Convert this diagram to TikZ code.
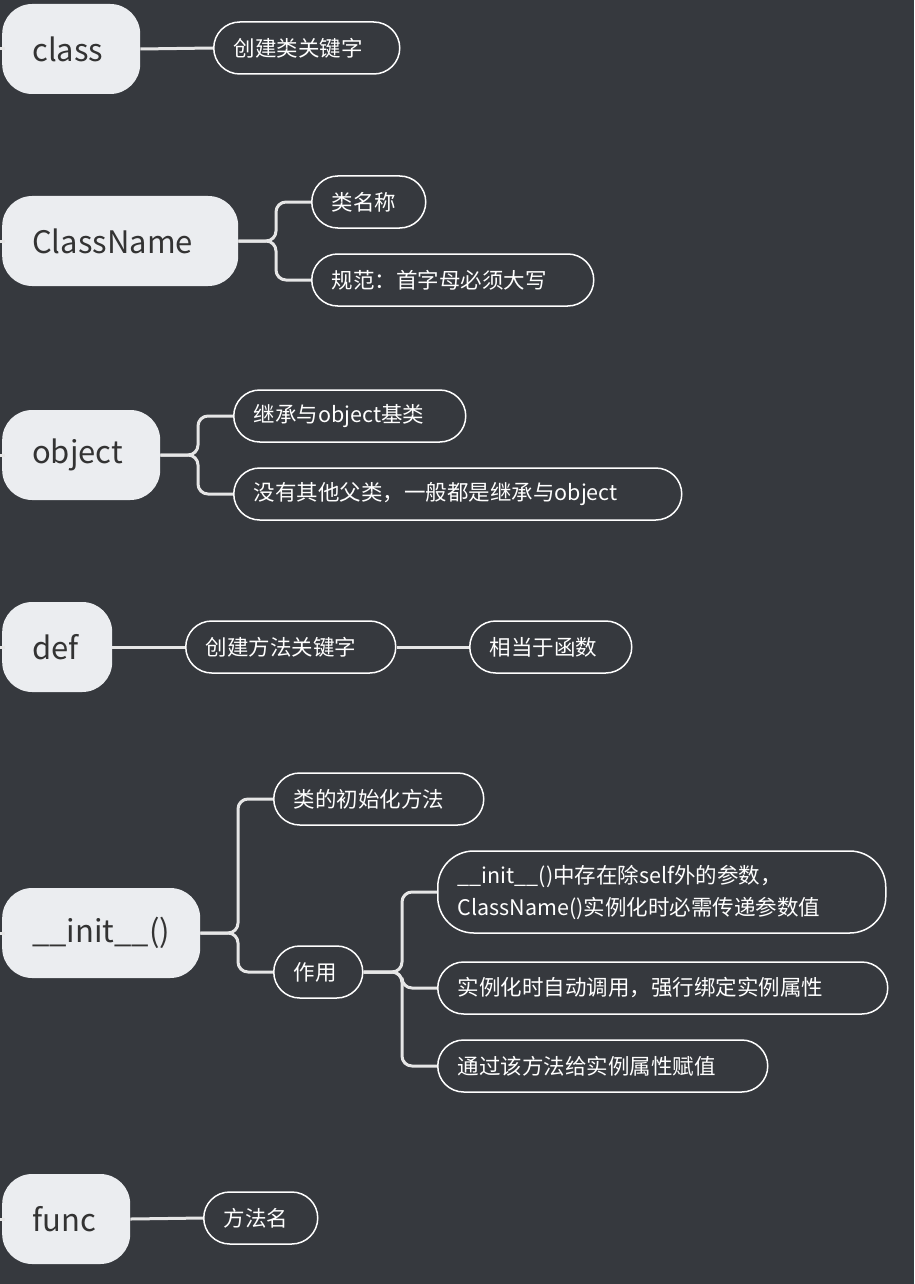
\documentclass[tikz,border=0pt]{standalone}
\usepackage{fontspec}
\setmainfont{Noto Sans CJK SC}
\definecolor{bg}{HTML}{36393E}
\definecolor{mainfill}{HTML}{EBEDF0}
\definecolor{maintext}{HTML}{333333}
\definecolor{ln}{HTML}{E6E6E6}
\begin{document}
\begin{tikzpicture}[x=1pt,y=1pt,
  mainn/.style={fill=mainfill,text=maintext,rounded corners=30pt,minimum height=90pt,anchor=west,font=\fontsize{31}{36}\selectfont,inner xsep=30pt,text width=#1-60pt,align=left},
  child/.style={draw=white,line width=1.5pt,fill=bg,text=white,rounded corners=26pt,minimum height=52pt,anchor=west,font=\fontsize{21.5}{30}\selectfont,inner xsep=20pt,text width=#1-40pt,align=left},
  conn/.style={draw=ln,line width=3pt,rounded corners=10pt}]
\fill[bg] (0,0) rectangle (914,-1284);
\useasboundingbox (0,0) rectangle (914,-1284);
% main nodes
\node[mainn=138pt] (m1) at (2,-49) {class};
\node[mainn=236pt] (m2) at (2,-241) {ClassName};
\node[mainn=158pt] (m3) at (2,-455) {object};
\node[mainn=110pt] (m4) at (2,-647) {def};
\node[mainn=198pt] (m5) at (2,-933) {\_\_init\_\_()};
\node[mainn=128pt] (m6) at (2,-1219) {func};
% children
\node[child=186pt] (c1) at (213,-48) {创建类关键字};
\node[child=114pt] (c2) at (311,-202) {类名称};
\node[child=282pt] (c3) at (311,-280) {规范：首字母必须大写};
\node[child=232pt] (c4) at (233,-416) {继承与object基类};
\node[child=448pt] (c5) at (233,-494) {没有其他父类，一般都是继承与object};
\node[child=210pt] (c6) at (185,-647) {创建方法关键字};
\node[child=162pt] (c7) at (469,-647) {相当于函数};
\node[child=210pt] (c8) at (273,-799) {类的初始化方法};
\node[child=89pt] (c9) at (273,-972) {作用};
\node[child=448pt,minimum height=82pt,font=\fontsize{21.5}{32}\selectfont,rounded corners=36pt] (c10) at (437,-892) {\_\_init\_\_()中存在除self外的参数，\\ClassName()实例化时必需传递参数值};
\node[child=450pt] (c11) at (437,-988) {实例化时自动调用，强行绑定实例属性};
\node[child=330pt] (c12) at (437,-1066) {通过该方法给实例属性赋值};
\node[child=114pt] (c13) at (203,-1218) {方法名};
% connectors
\draw[conn] (m1.east) -- (c1.west);
\draw[conn] (m2.east) -- (276,-241) |- (c2.west);
\draw[conn] (m2.east) -- (276,-241) |- (c3.west);
\draw[conn] (m3.east) -- (198,-455) |- (c4.west);
\draw[conn] (m3.east) -- (198,-455) |- (c5.west);
\draw[conn] (m4.east) -- (c6.west);
\draw[conn] (c6.east) -- (c7.west);
\draw[conn] (m5.east) -- (238,-933) |- (c8.west);
\draw[conn] (m5.east) -- (238,-933) |- (c9.west);
\draw[conn] (c9.east) -- (402,-972) |- (c10.west);
\draw[conn] (c9.east) -- (402,-972) |- (c11.west);
\draw[conn] (c9.east) -- (402,-972) |- (c12.west);
\draw[conn] (m6.east) -- (c13.west);
% left edge ticks
\foreach \n in {m1,m2,m3,m4,m5,m6}{\draw[ln,line width=3pt] (0,0 |- \n.west) -- (5,0 |- \n.west);}
\end{tikzpicture}
\end{document}
